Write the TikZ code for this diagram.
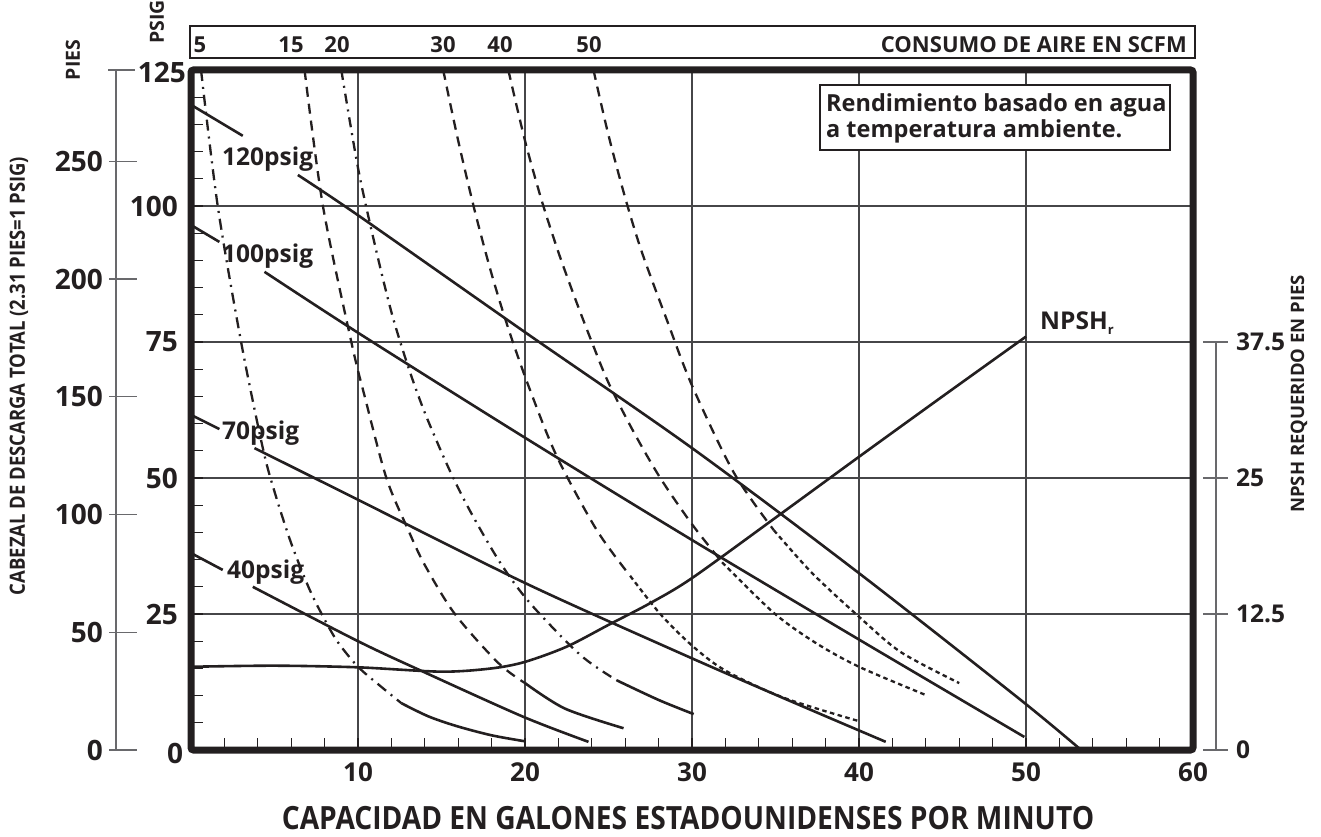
\documentclass[tikz,border=0pt]{standalone}
\usepackage{fontspec}
\setmainfont{Open Sans}
\newfontfamily\narrowfont{Open Sans}[FakeStretch=0.88]
\usepackage{tikz}

\definecolor{ink}{RGB}{35,31,32}
\definecolor{rule}{RGB}{70,70,72}
\definecolor{axisgray}{RGB}{105,105,108}

\begin{document}
\begin{tikzpicture}[x=1pt, y=1pt,
	every node/.style={text=ink, inner sep=0pt},
	leftnum/.style={anchor=east, font=\fontsize{28}{28}\selectfont\bfseries},
	rightnum/.style={anchor=west, font=\fontsize{24.5}{24.5}\selectfont\bfseries},
	gpmnum/.style={font=\fontsize{26}{26}\selectfont\bfseries},
	scfmnum/.style={font=\fontsize{22}{22}\selectfont\bfseries},
	pumplabel/.style={anchor=base west, font=\fontsize{24.5}{24.5}\selectfont\bfseries},
	sidetitle/.style={rotate=90, font=\fontsize{19.5}{19.5}\selectfont\bfseries},
	gridline/.style={draw=rule, line width=1.1pt},
	axisline/.style={draw=axisgray, line width=1.4pt},
	tickmark/.style={draw=ink, line width=1.3pt},
	pump/.style={draw=ink, line width=2.6pt},
	air/.style={draw=ink, line width=2.3pt, dash pattern=on 10pt off 7pt},
	airfine/.style={draw=ink, line width=2.3pt, dash pattern=on 4.5pt off 3.5pt}]

	\useasboundingbox (0,0) rectangle (1321,836);

	\begin{scope}[shift={(191,86)}, x=16.7pt, y=5.44pt]
		\foreach \g in {10,20,...,50}
			\draw[gridline] (\g,0) -- (\g,125);
		\foreach \g in {25,50,75,100}
			\draw[gridline] (0,\g) -- (60,\g);
		\foreach \t in {2,4,...,58}
			\draw[tickmark] (\t,0) -- ++(0pt,12pt);
		\foreach \t in {5,10,...,120}
			\draw[tickmark] (0,\t) -- ++(12pt,0pt);

		\draw[air, dash pattern=on 11pt off 6pt on 2pt off 6pt] plot[smooth] coordinates {(0.6,125) (1.6,100) (3.0,75) (4.3,55.5) (5.0,47.5) (6.0,38) (7.1,29.5) (8.0,24) (8.8,19.8) (10,15.3) (11.4,11.6) (12.6,8.6)};
		\draw[pump] plot[smooth] coordinates {(12.6,8.6) (14.2,6.2) (15.9,4.4) (18,2.7) (20,1.6)};
		\draw[air] plot[smooth] coordinates {(6.8,125) (7.9,100) (9.6,75) (10.4,65) (11.7,50) (13,40.5) (14,34) (15.8,25) (18.4,16) (20,12.3)};
		\draw[pump] plot[smooth] coordinates {(20,12.3) (22.4,7.6) (25.9,4.0)};
		\draw[air, dash pattern=on 10pt off 6pt on 2pt off 6pt] plot[smooth] coordinates {(9.0,125) (10,107) (11,93) (12,80.5) (13,70.5) (14,62) (15.4,52) (16.7,44) (18.5,34.5) (20.3,27) (23.3,17.5) (25.5,12.8)};
		\draw[pump] plot[smooth] coordinates {(25.5,12.8) (28,9.2) (30.1,6.6)};
		\draw[air] plot[smooth] coordinates {(15.1,125) (16.0,112) (17.0,99) (18.0,87.5) (19.0,77.5) (20.2,67) (21.9,54) (24.3,40.4) (26.3,32)};
		\draw[airfine] plot[smooth] coordinates {(26.3,32) (28.1,25) (30,19.2) (32,14.6) (35.5,9.6) (40,5.3)};
		\draw[air] plot[smooth] coordinates {(19.0,125) (20,112) (21,101) (22,91.5) (23,83) (24,75) (25,67.5) (26.5,58.5) (28.1,50) (30,41.5) (31.8,34.5)};
		\draw[airfine] plot[smooth] coordinates {(31.8,34.5) (34.9,25.2) (37.4,19.7) (40,15.3) (44,10.1)};
		\draw[air] plot[smooth] coordinates {(24.1,125) (25,113) (26,101.5) (27,91.5) (28.5,79) (30,67) (32.5,51) (34.9,40.4)};
		\draw[airfine] plot[smooth] coordinates {(34.9,40.4) (37.2,32.5) (40,24.5) (42.5,18) (46,12.3)};

		\draw[pump] (0,118.6) -- (3.1,112.9);
		\draw[pump] plot[smooth] coordinates {(6.4,105.7) (10,98.3) (20,76.8) (30,55.5) (40,32.5) (49.6,9.4) (53.3,0)};
		\draw[pump] (0,96.5) -- (1.7,93.4);
		\draw[pump] plot[smooth] coordinates {(4.4,87.9) (10,76.7) (20,57.4) (30,38.6) (40,20.3) (49.9,2.4)};
		\draw[pump] (0,61.6) -- (1.7,59.0);
		\draw[pump] plot[smooth] coordinates {(3.8,55.5) (10,46) (20,30.7) (29.3,17.8) (35.5,9.5) (41.6,1.5)};
		\draw[pump] (0,36.2) -- (1.9,33.1);
		\draw[pump] plot[smooth] coordinates {(3.7,30) (10,20) (13.9,14.4) (19.9,6.1) (23.8,1.5)};

		\draw[pump] plot[smooth] coordinates {(0,15.3) (5,15.5) (10,15.2) (15,14.4) (18,15) (20,16.2) (22.5,19) (25,23) (27.5,27) (30,31.6) (35,42.7) (40,53.9) (45,65) (50,76)};

		\draw[draw=ink, line width=7pt, rounded corners=2.5pt] (0,0) rectangle (60,125);
	\end{scope}

	\node[pumplabel] (p120) at (222,670) {120psig};
	\node[pumplabel] (p100) at (222,573) {100psig};
	\node[pumplabel] (p70) at (222,396) {70psig};
	\node[pumplabel] (p40) at (227,258) {40psig};
	\node[pumplabel] (npshr) at (1040,506) {NPSH\raisebox{-5pt}{\fontsize{13}{13}\selectfont r}};

	\draw[draw=ink, fill=white, line width=2pt] (820,686) rectangle (1170,751);
	\node[anchor=base west, font=\fontsize{23.5}{23.5}\selectfont\bfseries] (note1) at (826,724) {Rendimiento basado en agua};
	\node[anchor=base west, font=\fontsize{23.5}{23.5}\selectfont\bfseries] (note2) at (826,698) {a temperatura ambiente.};

	\draw[draw=ink, line width=1.5pt] (190,778) rectangle (1195,810);
	\foreach \s/\px in {5/200,15/291,20/337,30/443,40/500,50/589}
		\node[scfmnum] (scfm\s) at (\px,791.5) {\s};
	\node[scfmnum, anchor=east] (consumo) at (1187,791.5) {CONSUMO DE AIRE EN SCFM};

	\draw[axisline] (116,86) -- (116,766);
	\draw[axisline] (108,766) -- (135,766);
	\foreach \f in {0,50,...,250} {
		\draw[axisline] (109,{86+2.355*\f}) -- (137,{86+2.355*\f});
		\node[leftnum] (ft\f) at (103,{86+2.355*\f}) {\f};
	}
	\foreach \p in {25,50,75,100}
		\node[leftnum] (psi\p) at (178,{86+5.44*\p}) {\p};
	\node[leftnum] (psi125) at (186,763) {125};
	\node[leftnum, anchor=center] (psi0) at (175,83) {0};

	\draw[axisline] (1216,86) -- (1216,494);
	\foreach \n/\v in {0/0,1/12.5,2/25,3/37.5} {
		\draw[axisline] (1203,{86+136*\n}) -- (1228,{86+136*\n});
		\node[rightnum] (npsh\n) at (1236,{86+136*\n}) {\v};
	}

	\foreach \g in {10,20,...,60}
		\node[gpmnum] (gpm\g) at ({191+16.7*\g},64) {\g};

	\node[sidetitle] (pies) at (73,776) {PIES};
	\node[sidetitle] (psig) at (157,814) {PSIG};
	\node[rotate=90, font=\narrowfont\fontsize{21}{21}\selectfont\bfseries] (cabezal) at (19,460) {CABEZAL DE DESCARGA TOTAL (2.31 PIES=1 PSIG)};
	\node[rotate=90, font=\fontsize{18.5}{18.5}\selectfont\bfseries] (npshtitle) at (1299,442) {NPSH REQUERIDO EN PIES};
	\node[font=\narrowfont\fontsize{32}{32}\selectfont\bfseries] (capacidad) at (688,18) {CAPACIDAD EN GALONES ESTADOUNIDENSES POR MINUTO};

\end{tikzpicture}
\end{document}
